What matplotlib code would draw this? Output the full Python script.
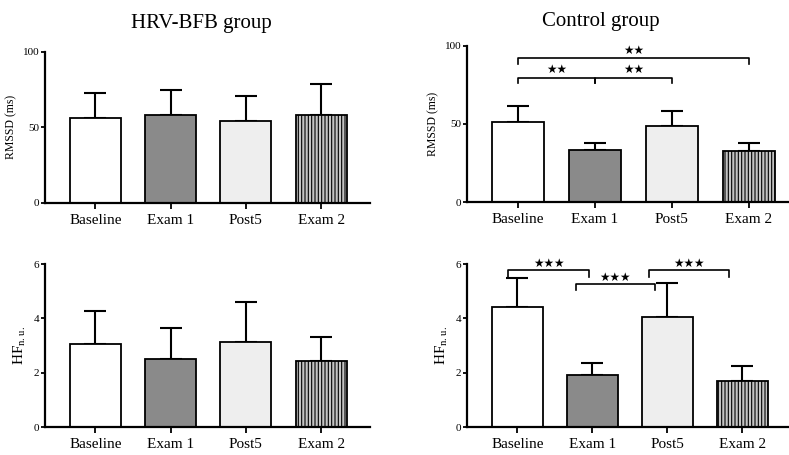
import matplotlib
matplotlib.use("Agg")
import matplotlib.pyplot as plt
import numpy as np

plt.rcParams['font.family'] = ['Liberation Serif', 'DejaVu Serif']
plt.rcParams['hatch.color'] = '#6a6a6a'
plt.rcParams['hatch.linewidth'] = 0.8

categories = ["Baseline", "Exam 1", "Post5", "Exam 2"]

hrv_rmssd = [56, 58.5, 54.5, 58]
hrv_rmssd_err = [16.5, 16.5, 16.5, 20.5]
ctl_rmssd = [51.5, 33.5, 49, 33]
ctl_rmssd_err = [10, 4, 9.5, 4.5]

hrv_hf = [3.06, 2.5, 3.13, 2.42]
hrv_hf_err = [1.22, 1.13, 1.48, 0.9]
ctl_hf = [4.42, 1.91, 4.05, 1.69]
ctl_hf_err = [1.06, 0.45, 1.25, 0.55]

fills = ["white", "#8a8a8a", "#eeeeee", "#c4c4c4"]
hatches = [None, None, None, "|||||"]

# significance brackets: (x1, x2, y, drop, label)
rmssd_brackets = [(0, 1, 79.5, 3.5, "★★"), (1, 2, 79.5, 3.5, "★★"), (0, 3, 92, 3.5, "★★")]
hf_brackets = [(-0.12, 0.95, 5.78, 0.26, "★★★"), (0.78, 1.83, 5.26, 0.22, "★★★"),
               (1.76, 2.82, 5.78, 0.26, "★★★")]

fig = plt.figure(figsize=(7.89, 4.55), dpi=100)

def panel(rect, vals, errs, ylim, yticks, ylabel, xlim, ylabel_size):
    ax = fig.add_axes(rect)
    x = np.arange(len(categories))
    bars = ax.bar(x, vals, width=0.68, color=fills, edgecolor="black", linewidth=1.3, zorder=2)
    for b, h in zip(bars, hatches):
        if h:
            b.set_hatch(h)
    ax.errorbar(x, vals, yerr=[np.zeros(len(vals)), errs], fmt="none", ecolor="black",
                elinewidth=1.5, capsize=8, capthick=1.5, zorder=1)
    ax.set_ylim(*ylim)
    ax.set_xlim(*xlim)
    ax.set_yticks(yticks)
    ax.set_xticks(x)
    ax.set_xticklabels(categories, fontsize=11)
    ax.tick_params(axis='y', labelsize=8, length=3, width=1.3, pad=1)
    ax.tick_params(axis='x', length=4, width=1.3, pad=4)
    for s in ["top", "right"]:
        ax.spines[s].set_visible(False)
    for s in ["left", "bottom"]:
        ax.spines[s].set_linewidth(1.6)
    ax.set_ylabel(ylabel, fontsize=ylabel_size, labelpad=4)
    return ax

def brackets(ax, items, star_off):
    for x1, x2, y, d, lab in items:
        ax.plot([x1, x1, x2, x2], [y - d, y, y, y - d], color="black", lw=1.2, clip_on=False)
        ax.text((x1 + x2) / 2, y + star_off, lab, ha="center", va="bottom", fontsize=8.5,
                family=["DejaVu Sans"], clip_on=False)

hf_label = r"HF$_{\mathregular{n.u.}}$"

ax1 = panel([0.057, 0.554, 0.412, 0.332], hrv_rmssd, hrv_rmssd_err, (0, 100), [0, 50, 100],
            "RMSSD (ms)", (-0.67, 3.65), 8.5)
ax2 = panel([0.592, 0.556, 0.408, 0.343], ctl_rmssd, ctl_rmssd_err, (0, 100), [0, 50, 100],
            "RMSSD (ms)", (-0.66, 3.52), 8.5)
ax3 = panel([0.057, 0.0615, 0.412, 0.358], hrv_hf, hrv_hf_err, (0, 6), [0, 2, 4, 6],
            hf_label, (-0.67, 3.65), 11)
ax4 = panel([0.592, 0.0615, 0.408, 0.358], ctl_hf, ctl_hf_err, (0, 6), [0, 2, 4, 6],
            hf_label, (-0.67, 3.62), 11)

brackets(ax2, rmssd_brackets, 1.0)
brackets(ax4, hf_brackets, 0.02)

fig.text(0.255, 0.948, "HRV-BFB group", ha="center", va="center", fontsize=15)
fig.text(0.762, 0.953, "Control group", ha="center", va="center", fontsize=15)

fig.savefig("out.png", dpi=100)
